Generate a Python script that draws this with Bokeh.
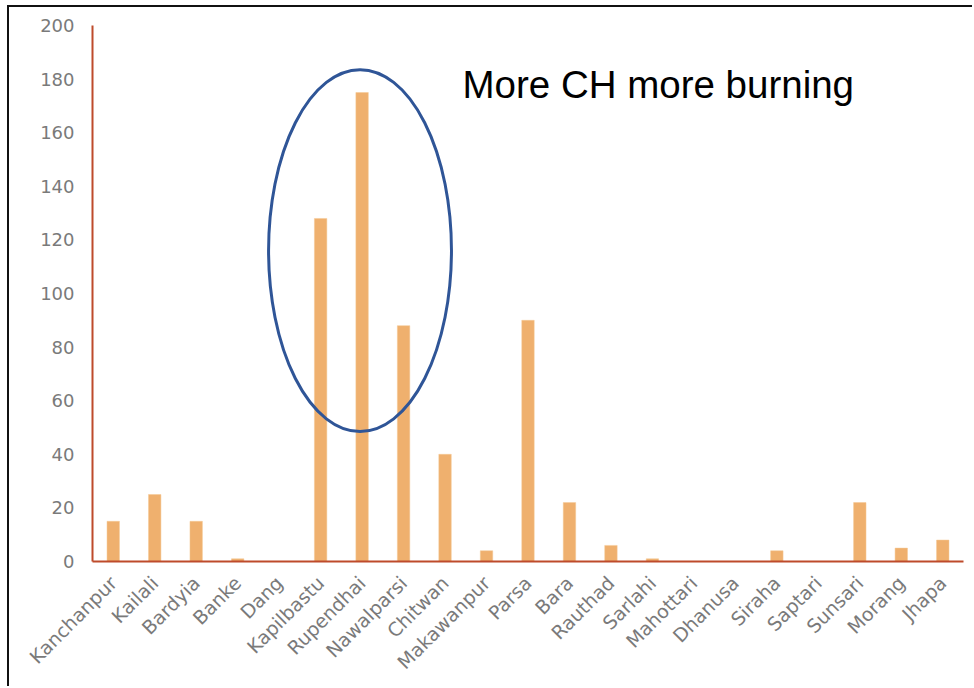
import math
from bokeh.plotting import figure
from bokeh.models import FactorRange, Range1d, FixedTicker, Label
from bokeh.embed import file_html
from bokeh.resources import INLINE

districts = ["Kanchanpur", "Kailali", "Bardyia", "Banke", "Dang", "Kapilbastu",
             "Rupendhai", "Nawalparsi", "Chitwan", "Makawanpur", "Parsa", "Bara",
             "Rauthad", "Sarlahi", "Mahottari", "Dhanusa", "Siraha", "Saptari",
             "Sunsari", "Morang", "Jhapa"]
burning = [15, 25, 15, 1, 0, 128, 175, 88, 40, 4, 90, 22, 6, 1, 0, 0, 4, 0, 22, 5, 8]
y_ticks = list(range(0, 201, 20))

annotation_text = "More CH more burning"
# ellipse highlighting the high-CH districts (data coordinates)
ell_x, ell_y, ell_w, ell_h = 6.45, 116, 4.41, 135

p = figure(x_range=FactorRange(factors=districts, range_padding=0),
           y_range=Range1d(0, 200),
           width=965, height=681,
           output_backend="svg", toolbar_location=None,
           min_border_left=83, min_border_top=18, min_border_right=11, min_border_bottom=127)
p.margin = (5, 0, 0, 7)
p.styles = {"border-left": "2px solid #111", "border-top": "2px solid #111"}

p.vbar(x=districts, top=burning, width=0.3, fill_color="#EFB06E", line_color="#F5C995", line_width=0.5)

p.ellipse(x=[ell_x], y=[ell_y], width=[ell_w], height=[ell_h],
          fill_color=None, line_color="#2F5597", line_width=3)

p.add_layout(Label(x=8.92, y=178, text=annotation_text, text_font="Liberation Sans",
                   text_font_size="38.5px", text_color="#000000", text_baseline="alphabetic"))

p.xgrid.grid_line_color = None
p.ygrid.grid_line_color = None
p.outline_line_color = None
p.background_fill_color = "white"
p.border_fill_color = "white"

axis_col = "#BE4B2B"
for ax in (p.xaxis[0], p.yaxis[0]):
    ax.axis_line_color = axis_col
    ax.axis_line_width = 2
    ax.major_tick_line_color = None
    ax.minor_tick_line_color = None
    ax.major_label_text_color = "#7A7A7A"
    ax.major_label_text_font = "DejaVu Sans"

p.yaxis.major_label_text_font_size = "18px"
p.xaxis.major_label_text_font_size = "19px"
p.yaxis.ticker = FixedTicker(ticks=y_ticks)
p.yaxis.major_label_standoff = 12
p.xaxis.major_label_orientation = math.pi / 4
p.xaxis.major_label_standoff = 12

open("out.html", "w").write(file_html(p, INLINE))
